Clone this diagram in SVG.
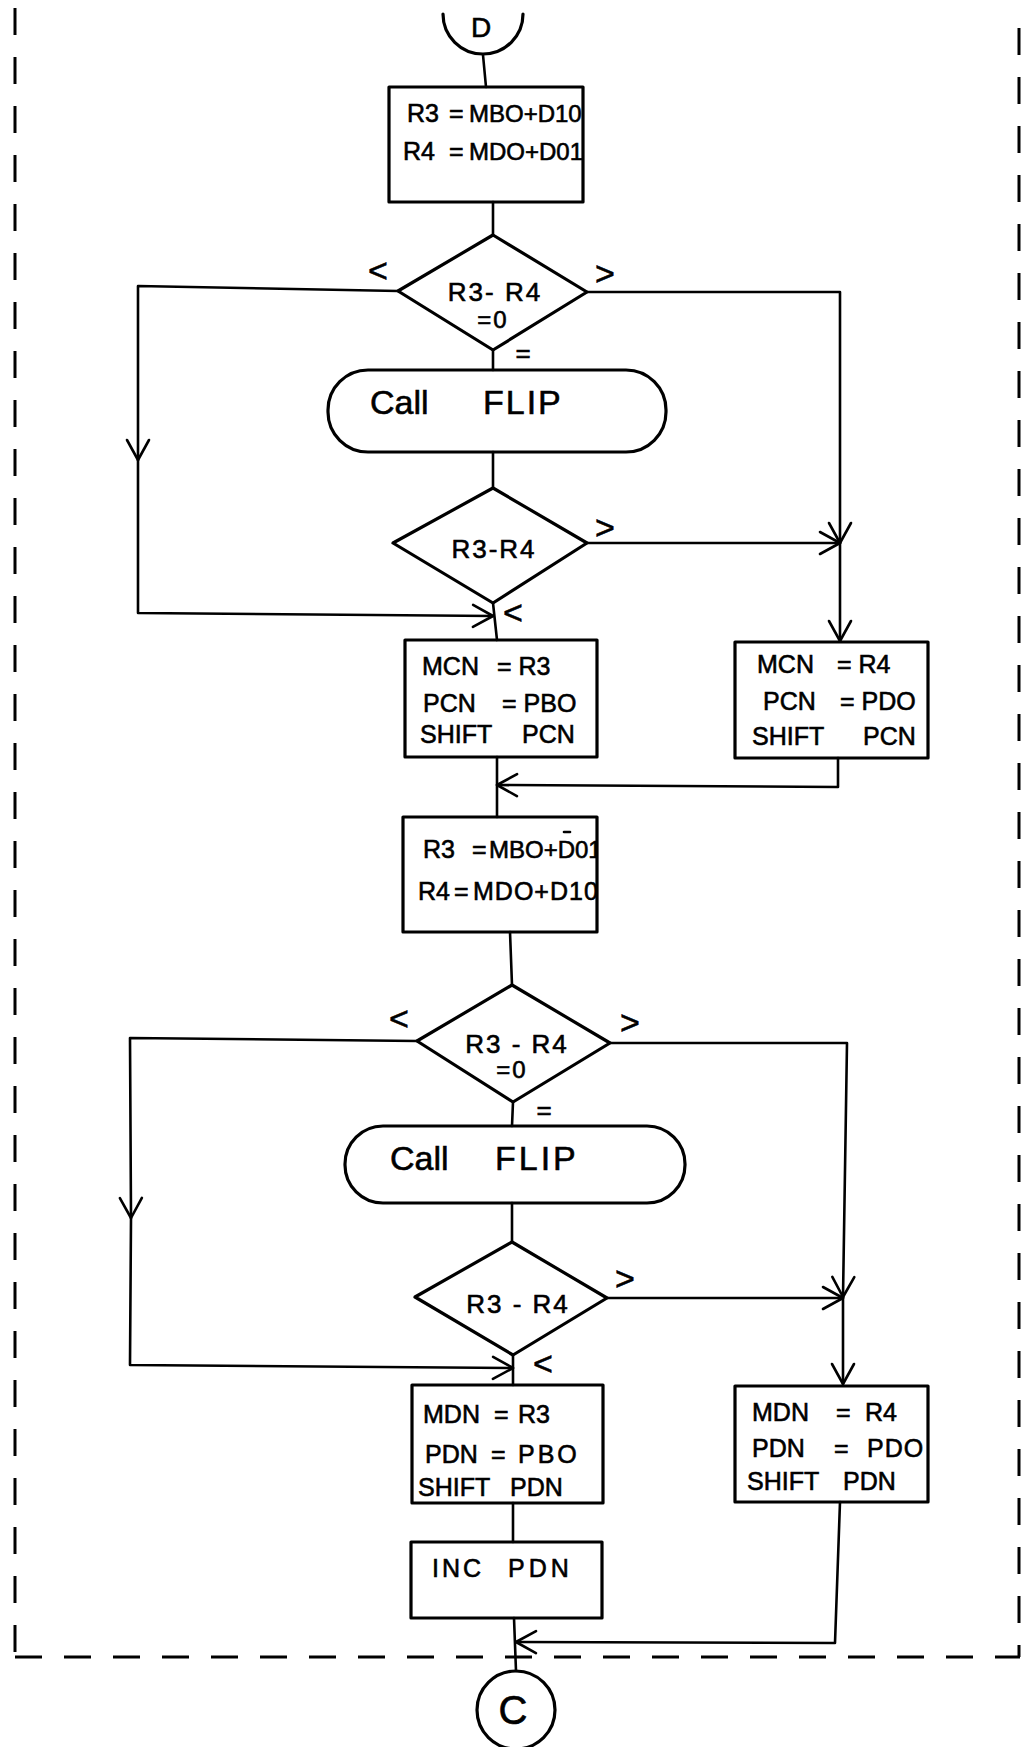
<svg xmlns="http://www.w3.org/2000/svg" width="1022" height="1747" viewBox="0 0 1022 1747">
<style>
.s{fill:none;stroke:#000;stroke-width:3.2;stroke-linejoin:round;stroke-linecap:round}
.c{fill:none;stroke:#000;stroke-width:2.6;stroke-linejoin:round;stroke-linecap:round}
.b{fill:none;stroke:#000;stroke-width:3;stroke-dasharray:27 22}
text{font-family:"Liberation Sans",Arial,sans-serif;fill:#000;stroke:#000;stroke-width:0.6px}
.t{font-size:25px}
.d{font-size:26px;text-anchor:middle;letter-spacing:2px}
.f{font-size:34px}
.l{font-size:34px;text-anchor:middle}
.e{font-size:26px;text-anchor:middle}
</style>
<defs>
<marker id="ah" viewBox="0 0 24 26" refX="22" refY="13" markerWidth="24" markerHeight="26" markerUnits="userSpaceOnUse" orient="auto" overflow="visible">
<path d="M2,2 L22,13 L2,24" fill="none" stroke="#000" stroke-width="2.6" stroke-linecap="round" stroke-linejoin="round"/>
</marker>
<clipPath id="cb1"><rect x="389" y="87" width="194" height="115"/></clipPath>
<clipPath id="cb3"><rect x="403" y="817" width="194" height="115"/></clipPath>
</defs>
<rect width="1022" height="1747" fill="#fff"/>

<g id="border">
<path class="b" d="M15,8 L15,1657"/>
<path class="b" d="M15,1657 L1020,1657"/>
<path class="b" d="M1019,28 L1019,1657"/>
</g>

<g id="connectors">
<path class="c" d="M483,55 L486,87"/>
<path class="c" d="M493,202 L493,235"/>
<path class="c" d="M493,350 L493,370"/>
<path class="c" d="M493,452 L493,488"/>
<path class="c" d="M398,291 L138,286 L138,460" marker-end="url(#ah)"/>
<path class="c" d="M138,460 L138,613 L493,616" marker-end="url(#ah)"/>
<path class="c" d="M493,603 L497,640"/>
<path class="c" d="M587,292 L840,292 L840,543" marker-end="url(#ah)"/>
<path class="c" d="M840,543 L840,641" marker-end="url(#ah)"/>
<path class="c" d="M587,543 L840,543" marker-end="url(#ah)"/>
<path class="c" d="M497,757 L497,817"/>
<path class="c" d="M838,758 L838,787 L497,785" marker-end="url(#ah)"/>
<path class="c" d="M510,932 L512,985"/>
<path class="c" d="M513,1102 L512,1126"/>
<path class="c" d="M512,1203 L512,1242"/>
<path class="c" d="M417,1041 L130,1038 L131,1218" marker-end="url(#ah)"/>
<path class="c" d="M131,1218 L130,1365 L513,1368" marker-end="url(#ah)"/>
<path class="c" d="M513,1355 L513,1385"/>
<path class="c" d="M610,1043 L847,1043 L843,1297" marker-end="url(#ah)"/>
<path class="c" d="M843,1297 L843,1384" marker-end="url(#ah)"/>
<path class="c" d="M607,1298 L843,1298" marker-end="url(#ah)"/>
<path class="c" d="M513,1503 L513,1542"/>
<path class="c" d="M514,1618 L516,1671"/>
<path class="c" d="M840,1502 L835,1643 L516,1642" marker-end="url(#ah)"/>
<g id="edge-labels">
<text class="l" x="378" y="282">&lt;</text>
<text class="l" x="605" y="285">&gt;</text>
<text class="e" x="523" y="362">=</text>
<text class="l" x="605" y="539">&gt;</text>
<text class="l" x="513" y="624">&lt;</text>
<text class="l" x="399" y="1030">&lt;</text>
<text class="l" x="630" y="1034">&gt;</text>
<text class="e" x="544" y="1119">=</text>
<text class="l" x="625" y="1290">&gt;</text>
<text class="l" x="543" y="1375">&lt;</text>
</g>
</g>

<g id="conn-D">
<path class="s" d="M443,14 A40,40 0 0 0 523,14"/>
<text x="481" y="37" text-anchor="middle" style="font-size:28px">D</text>
</g>

<g id="box1">
<rect class="s" x="389" y="87" width="194" height="115"/>
<g clip-path="url(#cb1)">
<text class="t" y="122"><tspan x="407">R3</tspan><tspan x="449">=</tspan><tspan x="469" style="font-size:24px">MBO+D10</tspan></text>
<text class="t" y="160"><tspan x="403">R4</tspan><tspan x="449">=</tspan><tspan x="469" style="font-size:24px">MDO+D01</tspan></text>
</g>
</g>

<g id="dec1">
<path class="s" d="M493,235 L587,292 L493,350 L398,291 Z"/>
<text class="d" x="495" y="301">R3- R4</text>
<text class="d" x="493" y="328" style="font-size:24px">=0</text>
</g>

<g id="flip1">
<rect class="s" x="328" y="370" width="338" height="82" rx="40" ry="40"/>
<text class="f" y="414"><tspan x="370">Call</tspan><tspan x="483" letter-spacing="2">FLIP</tspan></text>
</g>

<g id="dec2">
<path class="s" d="M493,488 L587,543 L493,603 L393,543 Z"/>
<text class="d" x="494" y="558" letter-spacing="4">R3-R4</text>
</g>

<g id="box2l">
<rect class="s" x="405" y="640" width="192" height="117"/>
<text class="t" y="675"><tspan x="422">MCN</tspan><tspan x="497">= R3</tspan></text>
<text class="t" y="712"><tspan x="423">PCN</tspan><tspan x="502">= PBO</tspan></text>
<text class="t" y="743"><tspan x="420">SHIFT</tspan><tspan x="522">PCN</tspan></text>
</g>

<g id="box2r">
<rect class="s" x="735" y="642" width="193" height="116"/>
<text class="t" y="673"><tspan x="757">MCN</tspan><tspan x="837">= R4</tspan></text>
<text class="t" y="710"><tspan x="763">PCN</tspan><tspan x="840">= PDO</tspan></text>
<text class="t" y="745"><tspan x="752">SHIFT</tspan><tspan x="863">PCN</tspan></text>
</g>

<g id="box3">
<rect class="s" x="403" y="817" width="194" height="115"/>
<path class="c" d="M564,832 L570,832"/>
<g clip-path="url(#cb3)">
<text class="t" y="858"><tspan x="423">R3</tspan><tspan x="472">=</tspan><tspan x="489" style="font-size:24px">MBO+D01</tspan></text>
<text class="t" y="900"><tspan x="418">R4</tspan><tspan x="454">=</tspan><tspan x="473" letter-spacing="1">MDO+D10</tspan></text>
</g>
</g>

<g id="dec3">
<path class="s" d="M512,985 L610,1043 L513,1102 L417,1041 Z"/>
<text class="d" x="517" y="1053" letter-spacing="1">R3 - R4</text>
<text class="d" x="512" y="1078" style="font-size:24px">=0</text>
</g>

<g id="flip2">
<rect class="s" x="345" y="1126" width="340" height="77" rx="38" ry="38"/>
<text class="f" y="1170"><tspan x="390">Call</tspan><tspan x="495" letter-spacing="3">FLIP</tspan></text>
</g>

<g id="dec4">
<path class="s" d="M512,1242 L607,1298 L513,1355 L415,1297 Z"/>
<text class="d" x="518" y="1313" letter-spacing="1">R3 - R4</text>
</g>

<g id="box4l">
<rect class="s" x="412" y="1385" width="191" height="118"/>
<text class="t" y="1423"><tspan x="423">MDN</tspan><tspan x="494">=</tspan><tspan x="518">R3</tspan></text>
<text class="t" y="1463"><tspan x="425">PDN</tspan><tspan x="491">=</tspan><tspan x="518" letter-spacing="3">PBO</tspan></text>
<text class="t" y="1496"><tspan x="418">SHIFT</tspan><tspan x="510">PDN</tspan></text>
</g>

<g id="box4r">
<rect class="s" x="735" y="1386" width="193" height="116"/>
<text class="t" y="1421"><tspan x="752">MDN</tspan><tspan x="836">=</tspan><tspan x="865">R4</tspan></text>
<text class="t" y="1457"><tspan x="752">PDN</tspan><tspan x="834">=</tspan><tspan x="867" letter-spacing="1">PDO</tspan></text>
<text class="t" y="1490"><tspan x="747">SHIFT</tspan><tspan x="843">PDN</tspan></text>
</g>

<g id="box5">
<rect class="s" x="411" y="1542" width="191" height="76"/>
<text class="t" y="1577"><tspan x="432" letter-spacing="3">INC</tspan><tspan x="508" letter-spacing="4">PDN</tspan></text>
</g>

<g id="conn-C">
<circle class="s" cx="516" cy="1710" r="39"/>
<text x="513" y="1724" style="font-size:40px" text-anchor="middle">C</text>
</g>
</svg>
